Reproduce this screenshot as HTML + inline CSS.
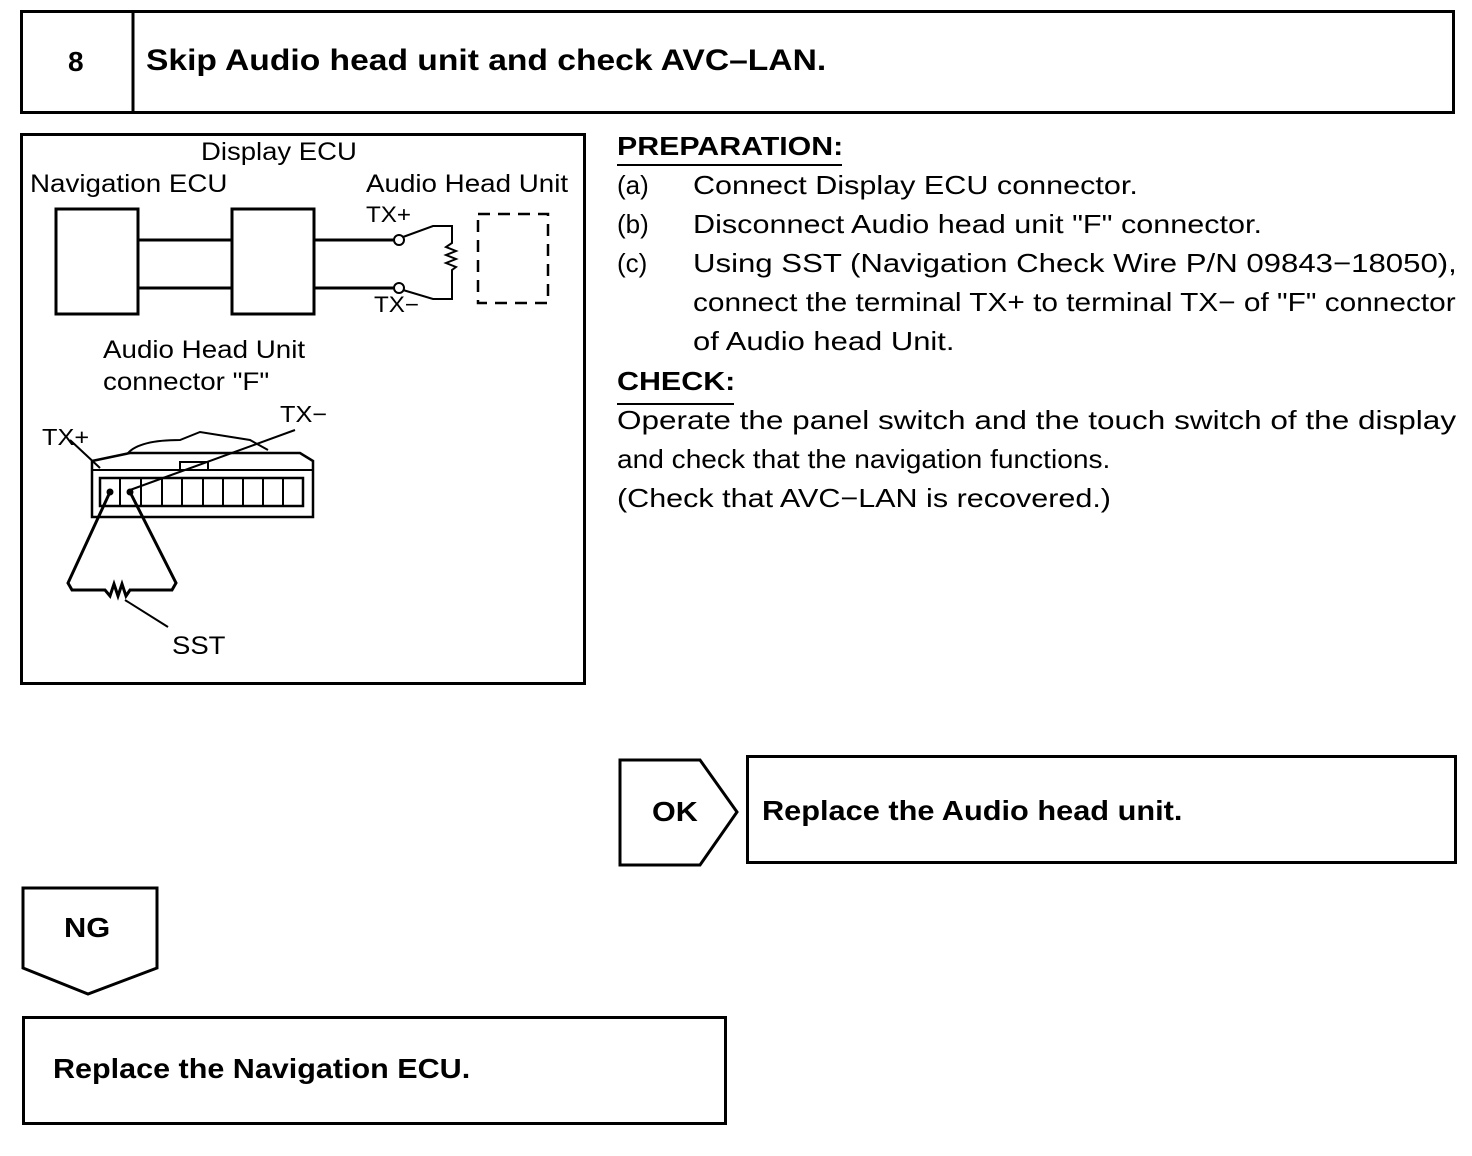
<!DOCTYPE html>
<html><head><meta charset="utf-8"><style>
body{margin:0;background:#fff;width:1472px;height:1156px;position:relative;font-family:"Liberation Sans",Arial,sans-serif;color:#000;overflow:hidden}
.a{position:absolute;white-space:nowrap;transform-origin:0 0}
.t{font-size:26px}
.b{font-weight:bold}
</style></head><body>
<svg width="1472" height="1156" style="position:absolute;left:0;top:0" fill="none" stroke="#000">
<rect x="21.5" y="11.5" width="1432" height="101" stroke-width="3"/>
<line x1="133" y1="11" x2="133" y2="113" stroke-width="3"/>
<rect x="21.5" y="134.5" width="563" height="549" stroke-width="3"/>
<rect x="56" y="209" width="82" height="105" stroke-width="3"/>
<rect x="232" y="209" width="82" height="105" stroke-width="3"/>
<line x1="139" y1="240" x2="232" y2="240" stroke-width="3"/>
<line x1="139" y1="288" x2="232" y2="288" stroke-width="3"/>
<line x1="314" y1="240" x2="394" y2="240" stroke-width="3"/>
<line x1="314" y1="288" x2="394" y2="288" stroke-width="3"/>
<circle cx="399" cy="240" r="5" stroke-width="2"/>
<circle cx="399" cy="288" r="5" stroke-width="2"/>
<polyline points="403,237 433,226 452,226 452,243 446,247 456,251 446,255 456,259 446,263 456,267 452,270 452,299 433,299 403,290" stroke-width="2"/>
<rect x="478" y="214" width="70" height="89" stroke-width="2.5" stroke-dasharray="12,8"/>
<polygon points="92,461 130,453 300,453 313,461 313,517 92,517" stroke-width="2.5"/>
<line x1="92" y1="470" x2="313" y2="470" stroke-width="2"/>
<rect x="100" y="478" width="203" height="28" stroke-width="2.5"/>
<g stroke-width="2"><line x1="120" y1="478" x2="120" y2="506"/><line x1="141" y1="478" x2="141" y2="506"/><line x1="162" y1="478" x2="162" y2="506"/><line x1="182" y1="478" x2="182" y2="506"/><line x1="203" y1="478" x2="203" y2="506"/><line x1="223" y1="478" x2="223" y2="506"/><line x1="243" y1="478" x2="243" y2="506"/><line x1="263" y1="478" x2="263" y2="506"/><line x1="283" y1="478" x2="283" y2="506"/></g>
<rect x="180" y="462" width="28" height="8" stroke-width="2"/>
<path d="M128,453 Q140,440 180,440 L200,432 L250,440 L268,450" stroke-width="2"/>
<line x1="70" y1="440" x2="100" y2="468" stroke-width="2"/>
<line x1="130" y1="490" x2="295" y2="430" stroke-width="2"/>
<circle cx="110" cy="492" r="3" fill="#000"/><circle cx="130" cy="492" r="3" fill="#000"/>
<polyline points="110,492 68,583 72,590 105,590 110,596 114,584 118,596 122,584 126,596 130,590 172,590 176,583 130,492" stroke-width="3"/>
<line x1="125" y1="600" x2="168" y2="627" stroke-width="2"/>
<polygon points="620,760 700,760 737,812 700,865 620,865" stroke-width="3"/>
<rect x="747.5" y="756.5" width="708" height="106" stroke-width="3"/>
<polygon points="23,888 157,888 157,968 88,994 23,968" stroke-width="3"/>
<rect x="23.5" y="1017.5" width="702" height="106" stroke-width="3"/>
<line x1="617" y1="165" x2="842" y2="165" stroke-width="2"/>
<line x1="617" y1="404" x2="734" y2="404" stroke-width="2"/>
</svg>
<div class="a b" style="left:68px;top:46px;font-size:28px">8</div>
<div class="a b" style="left:146px;top:44px;font-size:30px;transform:scaleX(1.12)">Skip Audio head unit and check AVC–LAN.</div>
<div class="a t" style="left:201px;top:138px;font-size:25px;transform:scaleX(1.1)">Display ECU</div>
<div class="a t" style="left:30px;top:170px;font-size:25px;transform:scaleX(1.11)">Navigation ECU</div>
<div class="a t" style="left:366px;top:170px;font-size:25px;transform:scaleX(1.11)">Audio Head Unit</div>
<div class="a" style="left:366px;top:202px;font-size:22px;transform:scaleX(1.1)">TX+</div>
<div class="a" style="left:374px;top:292px;font-size:22px;transform:scaleX(1.1)">TX−</div>
<div class="a t" style="left:103px;top:336px;font-size:25px;transform:scaleX(1.11)">Audio Head Unit</div>
<div class="a t" style="left:103px;top:368px;font-size:25px;transform:scaleX(1.11)">connector "F"</div>
<div class="a" style="left:42px;top:424px;font-size:23px;transform:scaleX(1.1)">TX+</div>
<div class="a" style="left:280px;top:401px;font-size:23px;transform:scaleX(1.1)">TX−</div>
<div class="a t" style="left:172px;top:632px;font-size:25px;transform:scaleX(1.1)">SST</div>
<div class="a t b" style="left:617px;top:131px;transform:scaleX(1.166)">PREPARATION:</div>
<div class="a t" style="left:617px;top:170px">(a)</div><div class="a t" style="left:693px;top:170px;transform:scaleX(1.175)">Connect Display ECU connector.</div>
<div class="a t" style="left:617px;top:209px">(b)</div><div class="a t" style="left:693px;top:209px;transform:scaleX(1.176)">Disconnect Audio head unit "F" connector.</div>
<div class="a t" style="left:617px;top:248px">(c)</div><div class="a t" style="left:693px;top:248px;transform:scaleX(1.198)">Using SST (Navigation Check Wire P/N 09843−18050),</div>
<div class="a t" style="left:693px;top:287px;transform:scaleX(1.147)">connect the terminal TX+ to terminal TX− of "F" connector</div>
<div class="a t" style="left:693px;top:326px;transform:scaleX(1.19)">of Audio head Unit.</div>
<div class="a t b" style="left:617px;top:366px;transform:scaleX(1.17)">CHECK:</div>
<div class="a t" style="left:617px;top:405px;transform:scaleX(1.212)">Operate the panel switch and the touch switch of the display</div>
<div class="a t" style="left:617px;top:444px;transform:scaleX(1.08)">and check that the navigation functions.</div>
<div class="a t" style="left:617px;top:483px;transform:scaleX(1.174)">(Check that AVC−LAN is recovered.)</div>
<div class="a b" style="left:652px;top:796px;font-size:28px;transform:scaleX(1.09)">OK</div>
<div class="a b" style="left:762px;top:795px;font-size:28px;transform:scaleX(1.097)">Replace the Audio head unit.</div>
<div class="a b" style="left:64px;top:912px;font-size:28px;transform:scaleX(1.1)">NG</div>
<div class="a b" style="left:53px;top:1053px;font-size:28px;transform:scaleX(1.09)">Replace the Navigation ECU.</div>
</body></html>
